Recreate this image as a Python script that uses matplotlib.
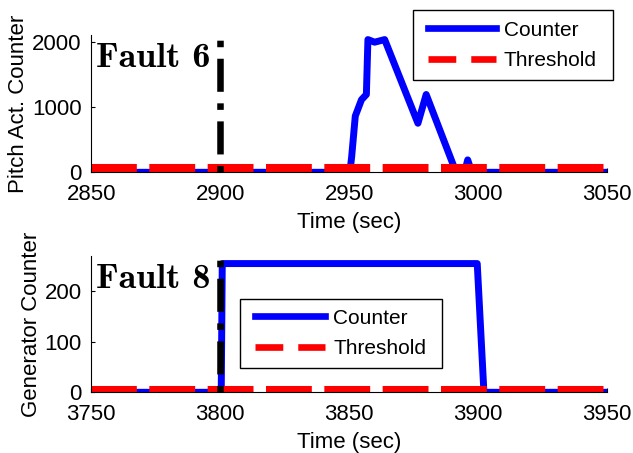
import matplotlib
matplotlib.use("Agg")
import matplotlib.pyplot as plt
from matplotlib.lines import Line2D
from matplotlib.patches import Rectangle

plt.rcParams['font.family'] = ['Liberation Sans', 'DejaVu Sans']
plt.rcParams['lines.scale_dashes'] = False

# ---------------- data ----------------
# Fault 6 : pitch actuator counter
pitch_time = [2850, 2950.3, 2951.0, 2952.4, 2954.8, 2956.7, 2957.3, 2959.9,
              2963.8, 2976.7, 2979.9, 2991.5, 2994.8, 2996.0, 2997.6, 3050]
pitch_counter = [0, 0, 240, 860, 1110, 1190, 2030, 1990,
                 2030, 750, 1190, 0, 0, 190, 0, 0]
pitch_thr_time = [2850, 3050]
pitch_threshold = [60, 60]
fault6_time = 2900

# Fault 8 : generator counter
gen_time = [3750, 3800.4, 3800.8, 3899.7, 3902.3, 3950]
gen_counter = [0, 0, 255, 255, 0, 0]
gen_thr_time = [3750, 3950]
gen_threshold = [5, 5]
fault8_time = 3800

top_xticks = [2850, 2900, 2950, 3000, 3050]
top_yticks = [0, 1000, 2000]
bot_xticks = [3750, 3800, 3850, 3900, 3950]
bot_yticks = [0, 100, 200]

legend_labels = ['Counter', 'Threshold']

# ---------------- figure ----------------
W, H = 633, 453
fig = plt.figure(figsize=(W / 100, H / 100), dpi=100)

FS = 16
LW_DATA = 5.0
LW_THR = 5.8
LW_FAULT = 4.7
thr_dashes = (33, 9)
fault_dashes = (4.7, 8.3, 23.8, 8.3)


def fx(px):
    return px / W


def fy(py):
    return 1 - py / H


def make_axes(bottom_px, top_px):
    left, right = 91.3, 606.9
    return fig.add_axes([fx(left), fy(bottom_px), (right - left) / W, (bottom_px - top_px) / H])


def style(ax, xlim, ylim, xticks, yticks, ylabel):
    ax.set_xlim(*xlim)
    ax.set_ylim(*ylim)
    ax.set_xticks(xticks)
    ax.set_yticks(yticks)
    ax.spines['top'].set_visible(False)
    ax.spines['right'].set_visible(False)
    for s in ('left', 'bottom'):
        ax.spines[s].set_linewidth(0.8)
        ax.spines[s].set_color('black')
    ax.tick_params(direction='in', length=3, width=0.8, labelsize=FS)
    ax.tick_params(axis='x', pad=8.5)
    ax.tick_params(axis='y', pad=7)
    ax.set_xlabel('Time (sec)', fontsize=FS, labelpad=5)
    ax.set_ylabel(ylabel, fontsize=FS, labelpad=2)


# top panel
ax1 = make_axes(172.3, 35)
ax1.plot(pitch_time, pitch_counter, color='#0000ff', lw=LW_DATA, solid_joinstyle='round')
ax1.plot(pitch_thr_time, pitch_threshold, color='#ff0000', lw=LW_THR, dashes=thr_dashes)
ax1.axvline(fault6_time, color='black', lw=LW_FAULT, dashes=fault_dashes)
style(ax1, (2850, 3050), (0, 2100), top_xticks, top_yticks, 'Pitch Act. Counter')

# bottom panel
ax2 = make_axes(392.3, 256)
ax2.plot(gen_time, gen_counter, color='#0000ff', lw=LW_DATA, solid_joinstyle='round')
ax2.plot(gen_thr_time, gen_threshold, color='#ff0000', lw=LW_THR, dashes=thr_dashes)
ax2.axvline(fault8_time, color='black', lw=LW_FAULT, dashes=fault_dashes)
style(ax2, (3750, 3950), (0, 270), bot_xticks, bot_yticks, 'Generator Counter')

# fault labels
fig.text(fx(96), fy(67), 'Fault 6', fontfamily='cmb10', fontsize=26, va='baseline', ha='left')
fig.text(fx(96), fy(288), 'Fault 8', fontfamily='cmb10', fontsize=26, va='baseline', ha='left')

# legends (frame drawn as a figure rectangle)
LEG_FS = 15
leg_px = LEG_FS * 100 / 72


def legend_at(box, handle_left, center_y, handle_len_px):
    x0, y0, x1, y1 = box
    fig.add_artist(Rectangle((fx(x0), fy(y1)), (x1 - x0) / W, (y1 - y0) / H,
                             transform=fig.transFigure, facecolor='white',
                             edgecolor='black', lw=1.0, zorder=3))
    handles = [Line2D([], [], color='#0000ff', lw=4.8),
               Line2D([], [], color='#ff0000', lw=4.8, dashes=(20, 10.8))]
    lg = fig.legend(handles, legend_labels, loc='center left',
                    bbox_to_anchor=(fx(handle_left), fy(center_y)),
                    frameon=False, fontsize=LEG_FS, borderpad=0, borderaxespad=0,
                    handlelength=handle_len_px / leg_px, handletextpad=8 / leg_px,
                    labelspacing=0.55)
    lg.set_zorder(5)


legend_at((413, 10, 613, 80), 428, 45.5, 68)
legend_at((240, 299, 442, 368), 255, 333.5, 70)

fig.savefig('out.png', dpi=100)
